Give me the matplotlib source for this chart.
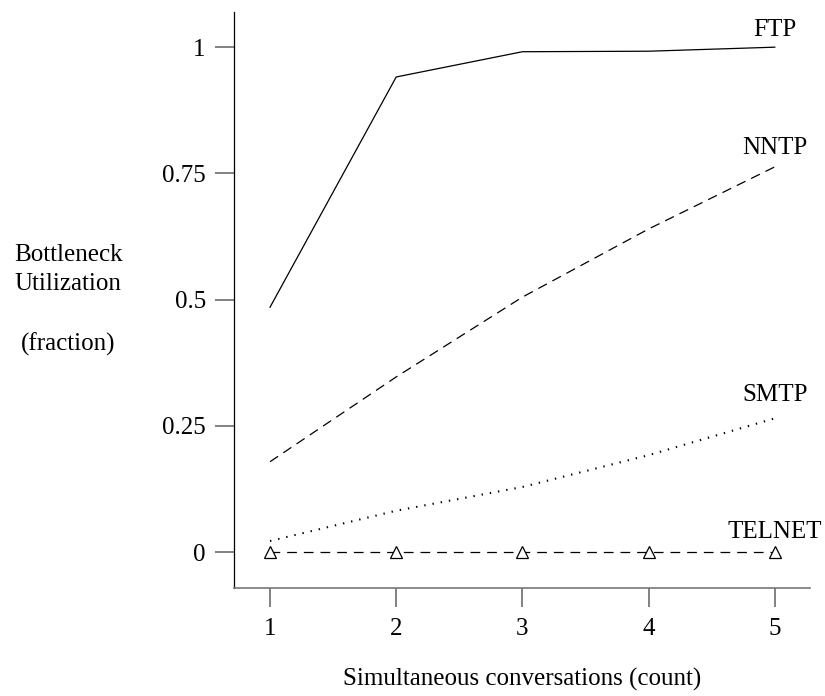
import matplotlib
matplotlib.use("Agg")
import matplotlib.pyplot as plt

plt.rcParams['font.family'] = ['Liberation Serif', 'DejaVu Serif']
plt.rcParams['lines.scale_dashes'] = False

conversations = [1, 2, 3, 4, 5]
ftp = [0.485, 0.941, 0.991, 0.992, 1.0]
nntp = [0.179, 0.347, 0.505, 0.640, 0.763]
smtp = [0.022, 0.082, 0.129, 0.192, 0.265]
telnet = [0.0, 0.0, 0.0, 0.0, 0.0]

y_ticks = [0, 0.25, 0.5, 0.75, 1]
y_tick_labels = ['0', '0.25', '0.5', '0.75', '1']

fig = plt.figure(figsize=(8.25, 6.96), dpi=100)
ax = fig.add_axes([0.284, 0.155, 0.698, 0.828])

ax.plot(conversations, ftp, color='black', lw=0.9)
ax.plot(conversations, nntp, color='black', lw=0.9, dashes=(7, 4.5))
ax.plot(conversations, smtp, color='black', lw=1.5, dashes=(1, 5.0))
ax.plot(conversations, telnet, color='black', lw=0.9, dashes=(7, 5),
        marker='^', ms=8, mfc='white', mec='black', mew=0.9)

# curve names sit just above the last point of each series
labels = [('FTP', ftp, 4.7), ('NNTP', nntp, 5.4), ('SMTP', smtp, 9), ('TELNET', telnet, 6.8)]
for name, series, lift in labels:
    ax.annotate(name, xy=(conversations[-1], series[-1]), xytext=(0, lift),
                textcoords='offset points', ha='center', va='bottom', fontsize=18)

ax.set_xlim(0.717, 5.28)
ax.set_ylim(-0.0713, 1.07)
ax.set_xticks(conversations)
ax.set_yticks(y_ticks)
ax.set_yticklabels(y_tick_labels)

for s in ['top', 'right']:
    ax.spines[s].set_visible(False)
ax.spines['left'].set_color('black')
ax.spines['left'].set_linewidth(0.9)
ax.spines['bottom'].set_color('#777777')
ax.spines['bottom'].set_linewidth(1.2)

ax.tick_params(axis='both', direction='out', length=13.5, width=1.3,
               color='#777777', labelsize=18)
ax.tick_params(axis='x', pad=8)
ax.tick_params(axis='y', pad=7)

ax.set_xlabel('Simultaneous conversations (count)', fontsize=18, labelpad=20)
fig.text(68 / 825, 1 - 300 / 696, 'Bottleneck\nUtilization\n\n(fraction)',
         ha='center', va='center', fontsize=18, linespacing=1.45)

fig.savefig('out.png', dpi=100)
